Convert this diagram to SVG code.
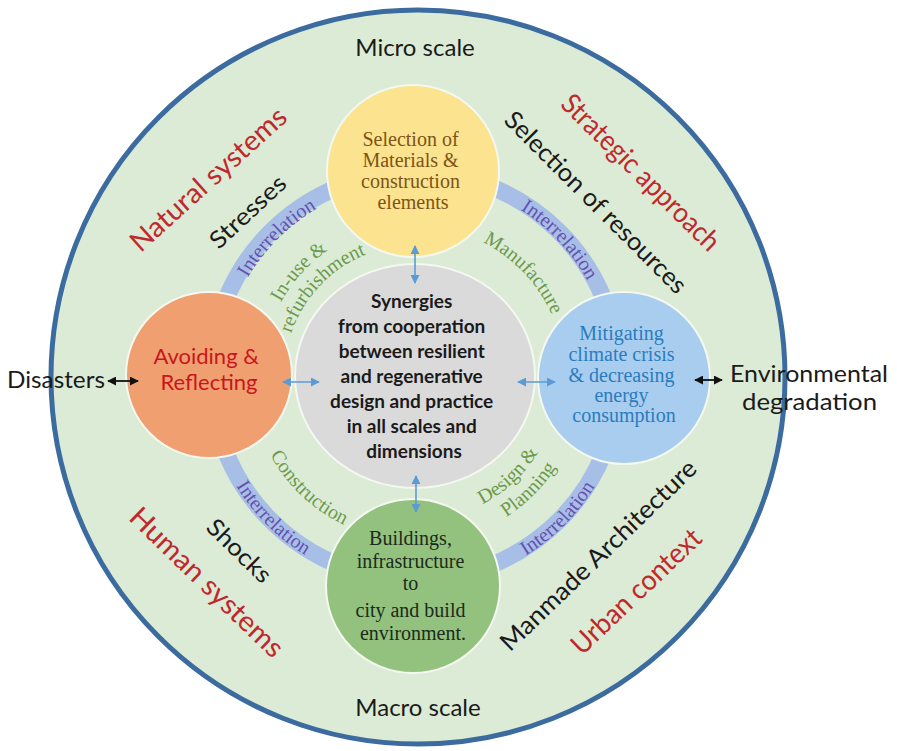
<svg xmlns="http://www.w3.org/2000/svg" width="897" height="751" viewBox="0 0 897 751">
<defs>
<style>
.sans{font-family:Lato,"Liberation Sans",sans-serif}
.serif{font-family:"Liberation Serif","DejaVu Serif",serif}
.red{fill:#c0282d}
.blk{fill:#1a1a1a}
.node{stroke:#f4f8f0;stroke-width:2}
.inter{font-family:"Liberation Serif",serif;font-size:20px;fill:#6650b0}
.grn{font-family:"Liberation Serif",serif;font-size:20px;fill:#6b9a4a}
.barrow{stroke:#5b9bd5;stroke-width:1.6;fill:none}
.karrow{stroke:#111;stroke-width:1.8;fill:none}
</style>
<marker id="ab" viewBox="0 0 10 10" refX="9" refY="5" markerWidth="9" markerHeight="9" markerUnits="userSpaceOnUse" orient="auto-start-reverse"><path d="M0,0 L10,5 L0,10 z" fill="#5b9bd5"/></marker>
<marker id="ak" viewBox="0 0 10 10" refX="9" refY="5" markerWidth="9" markerHeight="9" markerUnits="userSpaceOnUse" orient="auto-start-reverse"><path d="M0,0 L10,5 L0,10 z" fill="#111"/></marker>
<path id="pUL" d="M221.7,359.1 A194,194 0 0 1 398.1,182.7"/>
<path id="pUR" d="M438,180.3 A197,197 0 0 1 611.7,364.7"/>
<path id="pLL" d="M205.8,394.3 A210,210 0 0 0 396.7,585.2"/>
<path id="pLR" d="M433.4,586.2 A211,211 0 0 0 625.2,394.4"/>
<path id="pInuse" d="M263.5,397.3 A153,153 0 0 1 420.3,223.1"/>
<path id="pRefurb" d="M284.8,390.8 A131,131 0 0 1 423,245.2"/>
<path id="pManu" d="M405.8,226.3 A150,150 0 0 1 564,393"/>
<path id="pCons" d="M250.3,365.9 A165,165 0 0 0 433.7,539.9"/>
<path id="pDesign" d="M397.3,519.9 A145,145 0 0 0 559.8,368.4"/>
<path id="pPlan" d="M400.4,543.4 A168,168 0 0 0 582.4,361.4"/>
</defs>
<rect width="897" height="751" fill="#ffffff"/>
<g id="outer">
<circle cx="418" cy="377" r="367" fill="#dcebd6" stroke="#3c6c9f" stroke-width="5"/>
</g>
<g id="ring">
<circle cx="415" cy="376" r="204" fill="none" stroke="#a7bfe6" stroke-width="17"/>
</g>
<g id="ring-labels">
<text class="inter"><textPath href="#pUL" startOffset="50%" text-anchor="middle">Interrelation</textPath></text>
<text class="inter"><textPath href="#pUR" startOffset="50%" text-anchor="middle">Interrelation</textPath></text>
<text class="inter"><textPath href="#pLL" startOffset="50%" text-anchor="middle">Interrelation</textPath></text>
<text class="inter"><textPath href="#pLR" startOffset="50%" text-anchor="middle">Interrelation</textPath></text>
<text class="grn"><textPath href="#pInuse" startOffset="50%" text-anchor="middle">In-use &amp;</textPath></text>
<text class="grn"><textPath href="#pRefurb" startOffset="50%" text-anchor="middle">refurbishment</textPath></text>
<text class="grn"><textPath href="#pManu" startOffset="50%" text-anchor="middle">Manufacture</textPath></text>
<text class="grn"><textPath href="#pCons" startOffset="50%" text-anchor="middle">Construction</textPath></text>
<text class="grn"><textPath href="#pDesign" startOffset="50%" text-anchor="middle">Design &amp;</textPath></text>
<text class="grn"><textPath href="#pPlan" startOffset="50%" text-anchor="middle">Planning</textPath></text>
</g>
<g id="node-center">
<ellipse class="node" cx="415" cy="376" rx="120" ry="112" fill="#dadada"/>
<text class="sans blk" font-size="19" font-weight="bold" text-anchor="middle">
<tspan x="414" y="308">Synergies</tspan>
<tspan x="414" y="333">from cooperation</tspan>
<tspan x="414" y="358">between  resilient</tspan>
<tspan x="414" y="383">and regenerative</tspan>
<tspan x="414" y="408">design and practice</tspan>
<tspan x="414" y="433">in all scales and</tspan>
<tspan x="414" y="458">dimensions</tspan>
</text>
</g>
<g id="node-materials">
<circle class="node" cx="413" cy="171" r="86" fill="#fbe38f"/>
<text class="serif" font-size="20" fill="#7d5418" text-anchor="middle">
<tspan x="413" y="146">Selection of</tspan>
<tspan x="413" y="167">Materials &amp;</tspan>
<tspan x="413" y="188">construction</tspan>
<tspan x="413" y="209">elements</tspan>
</text>
</g>
<g id="node-avoiding">
<circle class="node" cx="209" cy="375" r="83" fill="#f0a070"/>
<text class="sans" font-size="22" text-anchor="middle" fill="#c8161d">
<tspan x="209" y="364">Avoiding &amp;</tspan>
<tspan x="209" y="390">Reflecting</tspan>
</text>
</g>
<g id="node-mitigating">
<circle class="node" cx="624" cy="378" r="86" fill="#a9cdee"/>
<text class="serif" font-size="20" fill="#2a7cc0" text-anchor="middle">
<tspan x="624" y="340">Mitigating</tspan>
<tspan x="624" y="361">climate crisis</tspan>
<tspan x="624" y="382">&amp;  decreasing</tspan>
<tspan x="624" y="402">energy</tspan>
<tspan x="624" y="422">consumption</tspan>
</text>
</g>
<g id="node-buildings">
<circle class="node" cx="413" cy="586" r="87" fill="#93c27e"/>
<text class="serif" font-size="20" fill="#1c2a1c" text-anchor="middle">
<tspan x="413" y="545">Buildings,</tspan>
<tspan x="413" y="568">infrastructure</tspan>
<tspan x="413" y="590">to</tspan>
<tspan x="413" y="617">city and build</tspan>
<tspan x="413" y="640">environment.</tspan>
</text>
</g>
<g id="connectors">
<line class="barrow" x1="415" y1="246" x2="415" y2="283" marker-start="url(#ab)" marker-end="url(#ab)"/>
<line class="barrow" x1="283" y1="382" x2="319" y2="382" marker-start="url(#ab)" marker-end="url(#ab)"/>
<line class="barrow" x1="518" y1="382" x2="555" y2="382" marker-start="url(#ab)" marker-end="url(#ab)"/>
<line class="barrow" x1="416" y1="476" x2="416" y2="512" marker-start="url(#ab)" marker-end="url(#ab)"/>
<line class="karrow" x1="108" y1="381" x2="138" y2="381" marker-start="url(#ak)" marker-end="url(#ak)"/>
<line class="karrow" x1="695" y1="380" x2="722" y2="380" marker-start="url(#ak)" marker-end="url(#ak)"/>
</g>
<g id="outer-labels">
<text class="sans blk" font-size="24" x="415" y="56" text-anchor="middle">Micro scale</text>
<text class="sans blk" font-size="24" x="418" y="716" text-anchor="middle">Macro scale</text>
<text class="sans blk" font-size="24" x="7" y="388" textLength="98" lengthAdjust="spacingAndGlyphs">Disasters</text>
<text class="sans blk" font-size="24" x="730" y="382" textLength="158" lengthAdjust="spacingAndGlyphs">Environmental</text>
<text class="sans blk" font-size="24" x="742" y="410" textLength="135" lengthAdjust="spacingAndGlyphs">degradation</text>
<g transform="translate(208,179) rotate(-42)"><text class="sans red" font-size="28" x="0" y="10" text-anchor="middle" textLength="200" lengthAdjust="spacingAndGlyphs">Natural systems</text></g>
<g transform="translate(248,212) rotate(-43)"><text class="sans blk" font-size="24" x="0" y="8" text-anchor="middle" textLength="95" lengthAdjust="spacingAndGlyphs">Stresses</text></g>
<g transform="translate(641,172) rotate(44.6)"><text class="sans red" font-size="28" x="0" y="10" text-anchor="middle" textLength="210" lengthAdjust="spacingAndGlyphs">Strategic approach</text></g>
<g transform="translate(596,202) rotate(45)"><text class="sans blk" font-size="25" x="0" y="9" text-anchor="middle" textLength="246" lengthAdjust="spacingAndGlyphs">Selection of resources</text></g>
<g transform="translate(207,582) rotate(44)"><text class="sans red" font-size="28" x="0" y="10" text-anchor="middle" textLength="202" lengthAdjust="spacingAndGlyphs">Human systems</text></g>
<g transform="translate(239,551) rotate(44.5)"><text class="sans blk" font-size="24" x="0" y="8" text-anchor="middle" textLength="80" lengthAdjust="spacingAndGlyphs">Shocks</text></g>
<g transform="translate(598,555) rotate(-44)"><text class="sans blk" font-size="25" x="0" y="9" text-anchor="middle" textLength="262" lengthAdjust="spacingAndGlyphs">Manmade Architecture</text></g>
<g transform="translate(636,591) rotate(-43.6)"><text class="sans red" font-size="28" x="0" y="10" text-anchor="middle" textLength="168" lengthAdjust="spacingAndGlyphs">Urban context</text></g>
</g>
</svg>
